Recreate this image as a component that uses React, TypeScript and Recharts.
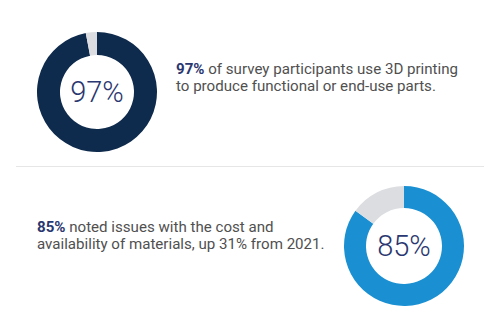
import { PieChart, Pie, Cell, Label } from "recharts";

const topShares = [97, 3];
const bottomShares = [85, 15];
const topColors = ["#0e2a4c", "#dcdde0"];
const bottomColors = ["#1a90d2", "#dcdde0"];
const topLabel = "97%";
const bottomLabel = "85%";

const toRows = (values: number[]) => values.map((value, i) => ({ name: `s${i}`, value }));

const textStyle = {
  position: "absolute" as const,
  fontFamily: "Roboto, 'Noto Sans', sans-serif",
  fontSize: 15.1,
  lineHeight: "16.5px",
  color: "#505050",
  whiteSpace: "nowrap" as const,
};

const strong = { fontWeight: 700, color: "#2a3770" };

const labelProps = {
  position: "center" as const,
  fontFamily: "Roboto, 'Noto Sans', sans-serif",
  fontWeight: 300,
  fontSize: 29,
  fill: "#2a3770",
};

const BOX = 130;

function Donut(props: {
  shares: number[];
  colors: string[];
  label: string;
  cx: number;
  cy: number;
  inner: number;
}) {
  return (
    <PieChart
      width={BOX}
      height={BOX}
      margin={{ top: 0, right: 0, bottom: 0, left: 0 }}
      style={{ position: "absolute", left: props.cx - BOX / 2, top: props.cy - BOX / 2 }}
    >
      <Pie
        data={toRows(props.shares)}
        dataKey="value"
        innerRadius={props.inner}
        outerRadius={60}
        startAngle={90}
        endAngle={-270}
        stroke="none"
        isAnimationActive={false}
      >
        {props.shares.map((_, i) => (
          <Cell key={i} fill={props.colors[i]} />
        ))}
        <Label value={props.label} {...labelProps} />
      </Pie>
    </PieChart>
  );
}

export default function App() {
  return (
    <div style={{ position: "absolute", left: 0, top: 0, width: 500, height: 325, background: "#fff" }}>
      <Donut shares={topShares} colors={topColors} label={topLabel} cx={97} cy={92} inner={37} />
      <Donut shares={bottomShares} colors={bottomColors} label={bottomLabel} cx={404} cy={246} inner={38} />
      <div style={{ ...textStyle, left: 176, top: 61 }}>
        <span style={strong}>97%</span> of survey participants use 3D printing
        <br />
        to produce functional or end-use parts.
      </div>
      <div style={{ position: "absolute", left: 16, top: 166, width: 468, height: 1, background: "#e6e6e6" }} />
      <div style={{ ...textStyle, left: 37, top: 219 }}>
        <span style={strong}>85%</span> noted issues with the cost and
        <br />
        availability of materials, up 31% from 2021.
      </div>
    </div>
  );
}
